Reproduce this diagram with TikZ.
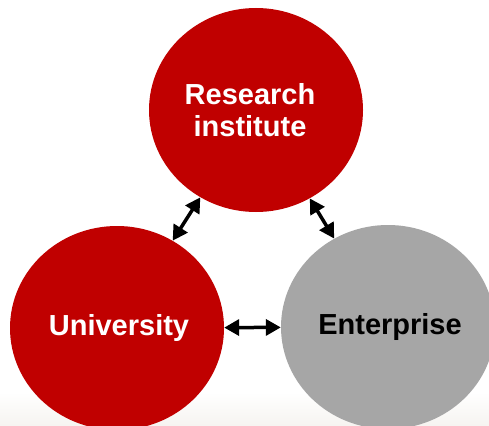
\documentclass[tikz,border=0pt]{standalone}
\usepackage{fontspec}
\setmainfont{Liberation Sans}
\usetikzlibrary{shapes.geometric,arrows.meta}
\definecolor{dred}{HTML}{C00000}
\definecolor{lgray}{HTML}{A6A6A6}
\definecolor{floor}{HTML}{F6F4F1}
\tikzset{
  blob/.style={ellipse, minimum width=214pt, minimum height=204pt, inner sep=0pt},
  blobtext/.style={font=\fontsize{29}{32}\selectfont\bfseries, align=center, inner sep=0pt},
  link/.style={{Triangle[length=15pt,width=16pt]}-{Triangle[length=15pt,width=16pt]}, line width=3.5pt, black}
}
\begin{document}
\begin{tikzpicture}[x=1pt,y=-1pt]
\useasboundingbox (0,0) rectangle (489,425);
\clip (0,0) rectangle (489,425);
\fill[white] (0,0) rectangle (489,425);
\shade[top color=white, bottom color=floor] (0,392) rectangle (489,425);
\node[blob, fill=dred] (R) at (256,110) {};
\node[blob, fill=dred] (U) at (117,328) {};
\node[blob, fill=lgray] (E) at (388,327) {};
\node[blobtext, text=white] (Rt) at ([xshift=-6pt]R.center) {Research\\institute};
\node[blobtext, text=white] (Ut) at ([xshift=2pt]U.center) {University};
\node[blobtext, text=black] (Et) at ([xshift=2pt]E.center) {Enterprise};
\draw[link] (R) -- (U);
\draw[link] (R) -- (E);
\draw[link] (U) -- (E);
\end{tikzpicture}
\end{document}
